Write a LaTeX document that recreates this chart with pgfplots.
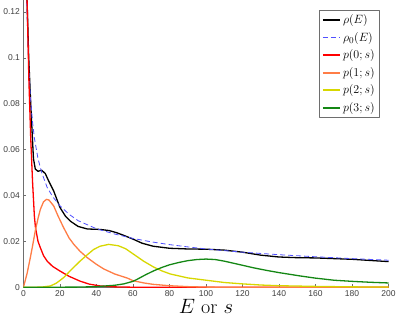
\documentclass[border=0pt]{standalone}
\usepackage{fontspec}
\usepackage{pgfplots}
\pgfplotsset{compat=1.18}
\newfontfamily\helv{Liberation Sans}

\definecolor{rhoblue}{RGB}{80,80,255}
\definecolor{pred}{RGB}{255,0,0}
\definecolor{porange}{RGB}{255,125,70}
\definecolor{pyellow}{RGB}{215,215,0}
\definecolor{pgreen}{RGB}{20,135,20}
\definecolor{axgray}{RGB}{110,110,110}

\begin{document}
\begin{tikzpicture}
  \begin{axis}[
      scale only axis,
      width=365pt,
      height=287pt,
      xmin=0, xmax=200,
      ymin=0, ymax=0.125,
      axis lines=left,
      axis line style={-,axgray},
      tick align=inside,
      major tick length=3pt,
      tick style={axgray},
      xtick={0,20,...,200},
      ytick={0,0.02,0.04,0.06,0.08,0.1,0.12},
      scaled y ticks=false,
      yticklabel style={/pgf/number format/fixed},
      tick label style={font=\helv\fontsize{8.5}{9}\selectfont,text=black!75},
      /pgf/number format/assume math mode=true,
      xlabel={\fontsize{20}{22}\selectfont $E$ or $s$},
      xlabel style={yshift=4pt},
      legend style={at={(0.975,0.965)},anchor=north east,draw=axgray,
        font=\fontsize{12.5}{13}\selectfont,row sep=3pt,inner sep=2.5pt},
      legend image post style={line width=2pt},
      legend cell align=left,
      line join=round,
    ]
    % rho(E)
    \addplot[black,line width=1.3pt] coordinates {
      (1.2,0.19) (1.5,0.16) (2,0.125) (2.9,0.1) (4,0.08) (4.8,0.067) (5.5,0.056)
      (6.5,0.0515) (8,0.0505) (10,0.051) (12,0.0495) (14,0.046) (16.6,0.0419)
      (20,0.0348) (23,0.031) (25.7,0.0288) (30,0.0265) (35,0.0254) (42,0.0252)
      (47,0.0247) (51,0.0238) (55,0.0226) (60,0.021) (65,0.0192) (71,0.0179)
      (80,0.0170) (90,0.0167) (100,0.0166) (110,0.0162) (120,0.0153) (130,0.0140)
      (140,0.0132) (150,0.0129) (160,0.0128) (170,0.0125) (180,0.0122)
      (190,0.0117) (200,0.0112)};
    % rho_0(E)
    \addplot[rhoblue,line width=0.8pt,dash pattern=on 5pt off 3pt,
      legend image post style={line width=1.3pt}] coordinates {
      (1.5,0.135) (2,0.118) (3,0.095) (4,0.081) (5,0.072) (6,0.065) (8,0.056)
      (10,0.050) (13,0.0435) (16,0.0395) (20,0.0355) (25,0.0318) (30,0.029)
      (40,0.0255) (50,0.0232) (60,0.0213) (70,0.0198) (80,0.0186) (90,0.0176)
      (100,0.0167) (120,0.0153) (140,0.0142) (160,0.0133) (180,0.0125) (200,0.0118)};
    % p(0;s)
    \addplot[pred,line width=1.3pt] coordinates {
      (0.5,0.3) (1,0.2) (2,0.125) (3,0.09) (4,0.065) (5,0.046) (6,0.031)
      (6.6,0.026) (8,0.020) (9.3,0.0172) (11,0.0138) (13,0.0114) (16,0.0091)
      (20,0.0071) (25,0.0048) (31,0.0027) (36,0.0014) (42,0.0006) (50,0.0002)
      (60,0.00005) (80,0) (200,0)};
    % p(1;s)
    \addplot[porange,line width=1.3pt] coordinates {
      (0,0) (2,0.006) (3.8,0.013) (5,0.018) (6.6,0.025) (8,0.030) (9.3,0.034)
      (11,0.0372) (12.6,0.0383) (14,0.038) (16.6,0.0354) (19,0.031) (22,0.026)
      (25,0.0215) (27.6,0.0187) (31,0.0157) (35,0.0129) (40,0.0100) (44,0.0080)
      (50,0.0058) (57,0.0040) (60,0.0029) (66,0.0019) (71,0.0013) (80,0.0007)
      (90,0.0003) (100,0.0001) (120,0) (200,0)};
    % p(2;s)
    \addplot[pyellow,line width=1.3pt] coordinates {
      (0,0) (10,0.0001) (14.8,0.0006) (18,0.0018) (22,0.0042) (26,0.0075)
      (31,0.0114) (35,0.0142) (38.5,0.0165) (42,0.0179) (46.7,0.0187)
      (52,0.0181) (56,0.0168) (62,0.0135) (66,0.0113) (71.4,0.0088) (76,0.0071)
      (80.5,0.0058) (90,0.0041) (100,0.0031) (110,0.0021) (120,0.0015)
      (130,0.0010) (140,0.0007) (160,0.0004) (180,0.0002) (200,0.0001)};
    % p(3;s)
    \addplot[pgreen,line width=1.3pt] coordinates {
      (0,0) (30,0.0001) (40,0.0003) (50,0.0009) (55,0.0015) (60,0.0026)
      (62.3,0.0035) (67,0.0055) (71.4,0.0072) (76,0.0087) (80,0.0098)
      (85,0.0108) (90,0.0116) (95,0.0121) (100,0.0123) (105,0.0121)
      (110,0.0114) (115,0.0105) (120,0.0096) (126,0.0085) (133,0.0074)
      (140,0.0064) (152,0.0049) (160,0.0040) (170,0.0031) (180,0.0026)
      (190,0.0022) (200,0.0019)};
    \legend{$\rho(E)$,$\rho_0(E)$,$p(0;s)$,$p(1;s)$,$p(2;s)$,$p(3;s)$}
  \end{axis}
\end{tikzpicture}
\end{document}
